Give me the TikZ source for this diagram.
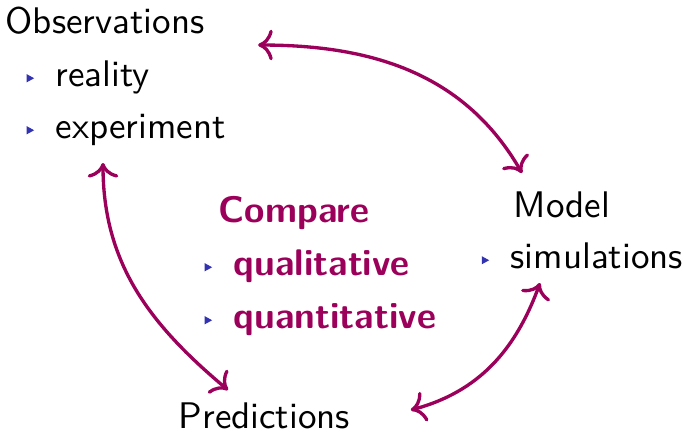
\documentclass[tikz,border=0pt]{standalone}
\usepackage{fontspec}
\usetikzlibrary{arrows.meta}
\definecolor{loopred}{RGB}{155,0,90}
\definecolor{bulletblue}{RGB}{51,51,178}
\newcommand\itm{\tikz[baseline=0pt]\fill[bulletblue] (0pt,1pt)--(2pt,2.1pt)--(0pt,3.2pt)--cycle;\hspace{5.8pt}}
\tikzset{
  txt/.style={anchor=base west,inner sep=0pt,font=\sffamily},
  hot/.style={txt,text=loopred,font=\sffamily\bfseries},
  link/.style={<->,>={To[scale=1.1]},line width=0.9pt,draw=loopred}
}
\begin{document}
\begin{tikzpicture}[x=0.27pt,y=0.27pt]
\useasboundingbox (0,0) rectangle (684,-433);
\node[txt] (obs) at (5,-33) {Observations};
\node[txt] (real) at (26,-86) {\itm reality};
\node[txt] (exp) at (26,-138) {\itm experiment};
\node[hot] (cmp) at (218,-222) {Compare};
\node[hot] (qual) at (204,-275) {\itm qualitative};
\node[hot] (quant) at (204,-328) {\itm quantitative};
\node[txt] (model) at (513,-217) {Model};
\node[txt] (sim) at (481,-268) {\itm simulations};
\node[txt] (pred) at (178,-428) {Predictions};
\draw[link] ([shift={(53,-12)}]obs.base east) to[out=0,in=120] ([shift={(9,44)}]model.base west);
\draw[link] ([shift={(77,-25)}]exp.base west) to[out=-90,in=140] ([shift={(50,38)}]pred.base west);
\draw[link] ([shift={(60,18)}]pred.base east) to[out=15,in=-110] ([shift={(59,-15)}]sim.base west);
\end{tikzpicture}
\end{document}
